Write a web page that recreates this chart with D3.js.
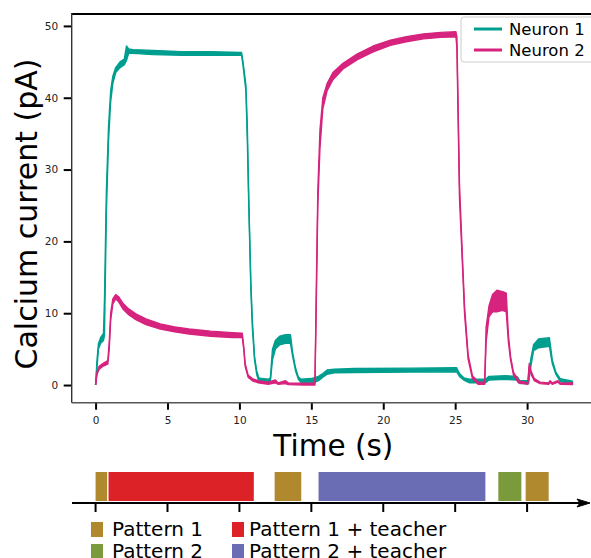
<!DOCTYPE html>
<html>
<head>
<meta charset="utf-8">
<script src="https://cdn.jsdelivr.net/npm/d3@7"></script>
<style>
  html, body { margin: 0; padding: 0; background: #fff; }
  svg { display: block; font-family: "DejaVu Sans", sans-serif; }
</style>
</head>
<body>
<svg id="chart" width="591" height="558"></svg>
<script>
// Calcium current of two neurons during the training protocol
// Each trace is [time (s), lower edge, upper edge] of the oscillating band

var seriesNames = ["Neuron 1", "Neuron 2"];

var neuron1 = [
  [0, 0, 0], [0.1, 2.5, 3.5], [0.2, 5, 5.8], [0.35, 5.8, 6.6], [0.55, 6.2, 7.2],
  [0.62, 7, 12], [0.75, 24, 27], [0.9, 34, 36], [1.05, 39.5, 41], [1.2, 42, 43],
  [1.4, 43.5, 44.2], [1.7, 44.2, 45], [2.0, 44.6, 45.4], [2.15, 45.2, 47.2],
  [2.3, 46.2, 46.8], [2.6, 46.2, 46.7], [4, 46, 46.6], [6, 45.9, 46.4],
  [8, 45.9, 46.4], [10.15, 45.9, 46.3], [10.25, 44.5, 45], [10.45, 41, 41.8],
  [10.55, 34, 36], [10.65, 25, 26], [10.8, 13, 14], [10.9, 8, 9], [11.05, 3.5, 4],
  [11.2, 1.5, 2], [11.35, 0.5, 1], [11.6, 0.3, 0.9], [12.0, 0.3, 0.8],
  [12.15, 0.5, 1.0], [12.3, 3.5, 5], [12.5, 5, 6.2], [12.8, 5.6, 6.8],
  [13.2, 5.8, 7], [13.55, 5.8, 7], [13.7, 4, 4.5], [13.9, 2, 2.4], [14.1, 0.8, 1.1],
  [14.3, 0.3, 0.8], [15.0, 0.2, 0.9], [15.5, 0.6, 1.2], [15.8, 1.1, 1.6],
  [16.1, 1.5, 2.1], [16.6, 1.7, 2.2], [18, 1.75, 2.3], [22, 1.8, 2.35],
  [25.1, 1.85, 2.4], [25.3, 1.2, 1.6], [25.6, 0.7, 1.0], [26, 0.3, 0.8],
  [27.1, 0.3, 0.8], [27.35, 0.7, 1.2], [28.5, 0.8, 1.3], [29.3, 0.7, 1.2],
  [29.5, 0.2, 0.6], [30.1, 0.2, 0.6], [30.25, 2.5, 3.5], [30.45, 4.8, 5.6],
  [30.8, 5.2, 6.4], [31.55, 5.4, 6.6], [31.75, 3, 3.5], [32.0, 1.5, 1.8],
  [32.3, 0.5, 0.9], [33.0, 0.2, 0.6], [33.2, 0.2, 0.5]
];

var neuron2 = [
  [0, 0, 0], [0.1, 1.5, 1.8], [0.25, 2.2, 2.6], [0.5, 2.6, 3.0], [0.85, 2.9, 3.4],
  [0.95, 5, 6], [1.05, 9, 10], [1.2, 11.3, 12], [1.4, 12, 12.6], [1.6, 11.6, 12.3],
  [1.9, 10.6, 11.4], [2.3, 9.8, 10.6], [2.8, 9.1, 9.9], [3.5, 8.4, 9.2],
  [4.5, 7.8, 8.5], [5.5, 7.4, 8.1], [6.5, 7.1, 7.8], [8, 6.8, 7.5], [9.5, 6.6, 7.3],
  [10.2, 6.6, 7.2], [10.3, 5, 5.4], [10.4, 2.6, 3], [10.6, 1.1, 1.4],
  [10.9, 0.6, 0.9], [11.3, 0.3, 0.6], [12, 0.1, 0.4], [12.5, 0.3, 0.7],
  [12.7, 0.1, 0.3], [13.2, 0.2, 0.6], [13.4, 0.05, 0.3], [14.5, 0, 0.25],
  [15.25, 0, 0.3], [15.35, 12, 14], [15.45, 25, 27], [15.6, 33, 35.5],
  [15.8, 38.5, 40], [16.1, 41, 42], [16.5, 42.5, 43.5], [17.2, 44, 44.8],
  [18.2, 45.3, 46.1], [19.3, 46.4, 47.2], [20.5, 47.3, 48], [21.6, 47.8, 48.5],
  [22.8, 48.2, 48.9], [24, 48.4, 49.1], [25.05, 48.5, 49.2], [25.12, 47, 48.5],
  [25.3, 26, 28], [25.5, 17, 18], [25.65, 10, 11], [25.9, 3.6, 4.2],
  [26.2, 0.9, 1.3], [26.6, 0.1, 0.4], [27.05, 0.1, 0.4], [27.15, 6, 8],
  [27.35, 9.5, 11], [27.6, 10.2, 12.6], [27.9, 10.2, 13.2], [28.3, 10.4, 13.0],
  [28.55, 10.2, 12.8], [28.7, 6, 7], [28.85, 3.5, 4], [29.05, 1.4, 1.8],
  [29.4, 0.3, 0.6], [30.05, 0.1, 0.3], [30.15, 2.6, 3.0], [30.3, 1.4, 1.8],
  [30.5, 0.6, 0.9], [30.9, 0.2, 0.4], [31.5, 0.1, 0.3], [31.6, 0.4, 0.6],
  [31.75, 0.1, 0.3], [32.15, 0.4, 0.6], [32.3, 0.1, 0.3], [33.2, 0.05, 0.3]
];

var timeTicks = [0, 5, 10, 15, 20, 25, 30];
var currentTicks = [0, 10, 20, 30, 40, 50];

// stimulation phases on the time line below the plot
var phaseKind = [0, 2, 0, 3, 1, 0];
var phaseStart = [0, 0.9, 12.45, 15.5, 28.0, 29.9];
var phaseEnd = [0.8, 11.0, 14.3, 27.1, 29.6, 31.5];
var phaseLabels = ["Pattern 1", "Pattern 2", "Pattern 1 + teacher", "Pattern 2 + teacher"];

(function () {
  "use strict";

  var svg = d3.select("#chart");

  // --- Colors ---
  var LINE_COLORS = ["#009e8f", "#d6237e"];
  var PHASE_COLORS = ["#b0892e", "#7b9a3b", "#dc2227", "#6a6db3"];

  // --- Scales (matplotlib-like 5% margins) ---
  var plot = { left: 71.7, right: 597, top: 14, bottom: 402.7 };
  var x = d3.scaleLinear().domain([-1.66, 34.86]).range([plot.left, plot.right]);
  var y = d3.scaleLinear().domain([-2.46, 51.66]).range([plot.bottom, plot.top]);

  svg.append("defs").append("clipPath").attr("id", "plot-clip")
    .append("rect")
    .attr("x", plot.left).attr("y", plot.top)
    .attr("width", plot.right - plot.left).attr("height", plot.bottom - plot.top);

  // --- Traces ---
  var band = d3.area()
    .x(function (d) { return x(d[0]); })
    .y0(function (d) { return y(d[1]); })
    .y1(function (d) { return y(d[2]); });
  var lowLine = d3.line()
    .x(function (d) { return x(d[0]); })
    .y(function (d) { return y(d[1]); });
  var highLine = d3.line()
    .x(function (d) { return x(d[0]); })
    .y(function (d) { return y(d[2]); });

  var traces = svg.append("g").attr("clip-path", "url(#plot-clip)");
  [neuron1, neuron2].forEach(function (data, i) {
    var g = traces.append("g");
    g.append("path").attr("d", band(data)).attr("fill", LINE_COLORS[i]);
    [lowLine, highLine].forEach(function (gen) {
      g.append("path")
        .attr("d", gen(data))
        .attr("fill", "none")
        .attr("stroke", LINE_COLORS[i])
        .attr("stroke-width", 1.4)
        .attr("stroke-linejoin", "round");
    });
  });

  // --- Axes ---
  var xAxis = svg.append("g")
    .attr("transform", "translate(0," + plot.bottom + ")")
    .call(d3.axisBottom(x).tickValues(timeTicks).tickSize(7).tickPadding(7));
  var yAxis = svg.append("g")
    .attr("transform", "translate(" + plot.left + ",0)")
    .call(d3.axisLeft(y).tickValues(currentTicks).tickSize(8).tickPadding(5.5));

  [xAxis, yAxis].forEach(function (ax) {
    ax.select(".domain").remove();
    ax.selectAll(".tick line").attr("stroke", "#000").attr("stroke-width", 2);
    ax.selectAll(".tick text")
      .attr("fill", "#222")
      .style("font-family", "DejaVu Sans, sans-serif")
      .style("font-size", "10.5px");
  });

  // spines
  svg.append("line")
    .attr("x1", plot.left).attr("x2", plot.right)
    .attr("y1", plot.top).attr("y2", plot.top)
    .attr("stroke", "#000").attr("stroke-width", 2);
  svg.append("line")
    .attr("x1", plot.left).attr("x2", plot.left)
    .attr("y1", plot.top - 1).attr("y2", plot.bottom)
    .attr("stroke", "#333").attr("stroke-width", 1.4);
  svg.append("line")
    .attr("x1", plot.left).attr("x2", plot.right)
    .attr("y1", plot.bottom).attr("y2", plot.bottom)
    .attr("stroke", "#555").attr("stroke-width", 1.4);

  // axis titles
  svg.append("text")
    .attr("x", (plot.left + plot.right) / 2 - 1)
    .attr("y", 456)
    .attr("text-anchor", "middle")
    .attr("font-size", "29.5px")
    .attr("fill", "#000")
    .text("Time (s)");
  svg.append("text")
    .attr("transform", "translate(37,214) rotate(-90)")
    .attr("text-anchor", "middle")
    .attr("font-size", "30px")
    .attr("fill", "#000")
    .text("Calcium current (pA)");

  // --- Neuron legend ---
  var leg = svg.append("g");
  leg.append("rect")
    .attr("x", 461).attr("y", 17)
    .attr("width", 140).attr("height", 45)
    .attr("rx", 3)
    .attr("fill", "#fff").attr("fill-opacity", 0.8)
    .attr("stroke", "#cccccc").attr("stroke-width", 1);
  seriesNames.forEach(function (name, i) {
    var ly = 29 + i * 21;
    leg.append("line")
      .attr("x1", 474).attr("x2", 502)
      .attr("y1", ly).attr("y2", ly)
      .attr("stroke", LINE_COLORS[i]).attr("stroke-width", 3);
    leg.append("text")
      .attr("x", 509).attr("y", ly + 6)
      .attr("font-size", "16.5px")
      .attr("fill", "#000")
      .text(name);
  });

  // --- Stimulation time line ---
  var tl = { axisY: 503, barTop: 472, barBottom: 501 };
  var timeline = svg.append("g");

  timeline.selectAll("rect.phase")
    .data(phaseKind)
    .enter().append("rect")
    .attr("class", "phase")
    .attr("x", function (d, i) { return x(phaseStart[i]); })
    .attr("width", function (d, i) { return x(phaseEnd[i]) - x(phaseStart[i]); })
    .attr("y", tl.barTop)
    .attr("height", tl.barBottom - tl.barTop)
    .attr("fill", function (d) { return PHASE_COLORS[d]; });

  timeline.append("line")
    .attr("x1", 72).attr("x2", 582)
    .attr("y1", tl.axisY).attr("y2", tl.axisY)
    .attr("stroke", "#000").attr("stroke-width", 2);
  timeline.append("path")
    .attr("d", "M590," + tl.axisY + " L577," + (tl.axisY - 4) + " L580," + tl.axisY +
      " L577," + (tl.axisY + 4) + " Z")
    .attr("fill", "#000").attr("stroke", "#000").attr("stroke-width", 1);

  timeline.selectAll("line.tick")
    .data(timeTicks)
    .enter().append("line")
    .attr("class", "tick")
    .attr("x1", function (d) { return x(d); })
    .attr("x2", function (d) { return x(d); })
    .attr("y1", tl.axisY).attr("y2", tl.axisY + 9)
    .attr("stroke", "#000").attr("stroke-width", 2);

  // phase legend: two columns, two rows
  var colX = [91, 232];
  phaseLabels.forEach(function (label, i) {
    var col = Math.floor(i / 2);
    var row = i % 2;
    var top = 522 + row * 22;
    timeline.append("rect")
      .attr("x", colX[col]).attr("y", top)
      .attr("width", 12).attr("height", 15)
      .attr("fill", PHASE_COLORS[i]);
    timeline.append("text")
      .attr("x", colX[col] + 20 + (col ? -3 : 1))
      .attr("y", top + 14)
      .attr("font-size", "20px")
      .attr("fill", "#000")
      .text(label);
  });
})();
</script>
</body>
</html>
